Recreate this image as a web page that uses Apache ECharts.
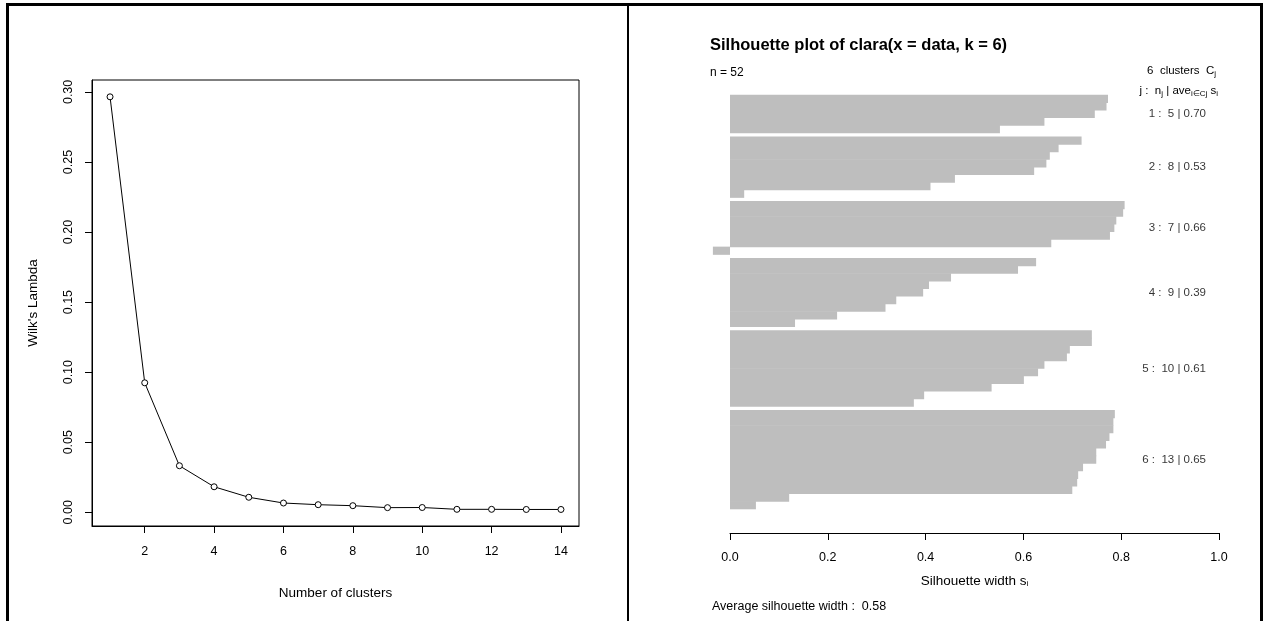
<!DOCTYPE html>
<html>
<head>
<meta charset="utf-8">
<script src="https://cdn.jsdelivr.net/npm/echarts@6/dist/echarts.min.js"></script>
<style>
html,body{margin:0;padding:0;background:#fff;}
#c{width:1266px;height:621px;}
</style>
</head>
<body>
<div id="c"></div>
<script>
// ---- Left panel: Wilk's Lambda vs number of clusters ----
const numClusters = [1,2,3,4,5,6,7,8,9,10,11,12,13,14];
const wilksLambda = [0.2965,0.0924,0.0332,0.0182,0.0107,0.0066,0.0054,0.0047,0.0033,0.0034,0.0021,0.0021,0.0020,0.0020];
const leftYTicks = [0,0.05,0.10,0.15,0.20,0.25,0.30];
const leftXTicks = [2,4,6,8,10,12,14];

// ---- Right panel: silhouette widths per cluster ----
const sil1 = [0.773,0.770,0.746,0.643,0.552];
const sil2 = [0.719,0.672,0.654,0.647,0.622,0.460,0.410,0.029];
const sil3 = [0.807,0.804,0.790,0.786,0.777,0.657,-0.035];
const sil4 = [0.626,0.589,0.452,0.407,0.395,0.340,0.318,0.219,0.133];
const sil5 = [0.740,0.740,0.695,0.689,0.643,0.630,0.601,0.535,0.397,0.376];
const sil6 = [0.787,0.784,0.784,0.776,0.769,0.749,0.749,0.722,0.712,0.710,0.700,0.121,0.053];
const clusterAvg = ['0.70','0.53','0.66','0.39','0.61','0.65'];
const avgSilWidth = '0.58';
const totalN = 52;

const silClusters = [sil1,sil2,sil3,sil4,sil5,sil6];
const GAP = 0.5;
const barData = [];
const labelData = [];
let pos = 0;
silClusters.forEach((arr, ci) => {
  if (ci > 0) pos += GAP;
  const start = pos;
  arr.forEach(v => { barData.push([v, pos]); pos += 1; });
  labelData.push({value:[1, start + arr.length/2], name: (ci+1) + ' :  ' + arr.length + ' | ' + clusterAvg[ci]});
});
const totalPos = pos;

const FONT = 'Liberation Sans, Arial, sans-serif';
const chart = echarts.init(document.getElementById('c'), null, {renderer:'canvas'});

const subRich = {sub:{fontSize:8, fontFamily:FONT, color:'#000', padding:[6,0,0,0]}};

chart.setOption({
  animation:false,
  backgroundColor:'#fff',
  textStyle:{fontFamily:FONT},
  grid:[
    {left:92, top:80, width:487, height:446, show:true, borderColor:'#000', borderWidth:1, containLabel:false},
    {left:730, top:95, width:489, height:414, show:false, containLabel:false}
  ],
  xAxis:[
    {gridIndex:0, type:'value', min:0.48, max:14.52,
     axisLine:{show:true, onZero:false, lineStyle:{color:'#000', width:1}},
     axisTick:{show:true, customValues:leftXTicks, length:7, inside:false, lineStyle:{color:'#000'}},
     axisLabel:{show:true, customValues:leftXTicks, margin:19, fontSize:12.5, color:'#000', fontFamily:FONT},
     splitLine:{show:false},
     name:'Number of clusters', nameLocation:'middle', nameGap:60,
     nameTextStyle:{fontSize:13.5, color:'#000', fontFamily:FONT}},
    {gridIndex:1, type:'value', min:0, max:1, interval:0.2, offset:24,
     axisLine:{show:true, onZero:false, lineStyle:{color:'#000', width:1}},
     axisTick:{show:true, length:7, lineStyle:{color:'#000'}},
     axisLabel:{show:true, margin:18, fontSize:12.5, color:'#000', fontFamily:FONT,
       formatter:v => v.toFixed(1)},
     splitLine:{show:false},
     name:'Silhouette width s{sub|i}', nameLocation:'middle', nameGap:41,
     nameTextStyle:{fontSize:13.5, color:'#000', fontFamily:FONT, rich:subRich}}
  ],
  yAxis:[
    {gridIndex:0, type:'value', min:-0.0098, max:0.3085,
     axisLine:{show:true, onZero:false, lineStyle:{color:'#000', width:1}},
     axisTick:{show:true, customValues:leftYTicks, length:7, lineStyle:{color:'#000'}},
     axisLabel:{show:true, customValues:leftYTicks, rotate:90, margin:17, fontSize:12.5, color:'#000', fontFamily:FONT,
       formatter:v => v.toFixed(2)},
     splitLine:{show:false},
     name:"Wilk's Lambda", nameLocation:'middle', nameGap:52, nameRotate:90,
     nameTextStyle:{fontSize:13.5, color:'#000', fontFamily:FONT}},
    {gridIndex:1, type:'value', min:0, max:totalPos, inverse:true,
     axisLine:{show:false, onZero:false}, axisTick:{show:false}, axisLabel:{show:false}, splitLine:{show:false}}
  ],
  series:[
    {type:'line', xAxisIndex:0, yAxisIndex:0,
     data:numClusters.map((x,i)=>[x, wilksLambda[i]]),
     lineStyle:{color:'#000', width:1},
     symbol:'circle', symbolSize:6,
     itemStyle:{color:'#fff', borderColor:'#000', borderWidth:1}},
    {type:'custom', xAxisIndex:1, yAxisIndex:1, clip:false,
     data:barData,
     renderItem:(params, api) => {
       const v = api.value(0), p = api.value(1);
       const a = api.coord([0, p]);
       const b = api.coord([v, p + 1]);
       return {type:'rect',
         shape:{x:Math.min(a[0],b[0]), y:Math.min(a[1],b[1]) - 0.3, width:Math.abs(b[0]-a[0]), height:Math.abs(b[1]-a[1]) + 0.6},
         style:{fill:'#bebebe', stroke:null, lineWidth:0}};
     }},
    {type:'scatter', xAxisIndex:1, yAxisIndex:1, symbolSize:0, data:labelData,
     label:{show:true, position:'left', distance:13, formatter:p => p.name, fontSize:11.5, color:'#000', fontFamily:FONT}}
  ],
  graphic:[
    {type:'rect', shape:{x:6, y:3, width:1257, height:3}, style:{fill:'#000'}},
    {type:'rect', shape:{x:6, y:3, width:3, height:618}, style:{fill:'#000'}},
    {type:'rect', shape:{x:627, y:3, width:2, height:618}, style:{fill:'#000'}},
    {type:'rect', shape:{x:1260, y:3, width:3, height:618}, style:{fill:'#000'}},
    {type:'text', x:710, y:37, style:{text:'Silhouette plot of clara(x = data, k = 6)', font:'bold 16.5px ' + FONT, fill:'#000'}},
    {type:'text', x:710, y:67, style:{text:'n = ' + totalN, font:'12px ' + FONT, fill:'#000'}},
    {type:'text', x:1216, y:64, style:{text:'6  clusters  C{sub|j}', font:'11.5px ' + FONT, fill:'#000', align:'right', rich:subRich}},
    {type:'text', x:1218, y:84, style:{text:'j :  n{sub|j} | ave{sub|i\u2208Cj} s{sub|i}', font:'11.5px ' + FONT, fill:'#000', align:'right', rich:subRich}},
    {type:'text', x:712, y:600, style:{text:'Average silhouette width :  ' + avgSilWidth, font:'12.5px ' + FONT, fill:'#000'}}
  ]
});
</script>
</body>
</html>
